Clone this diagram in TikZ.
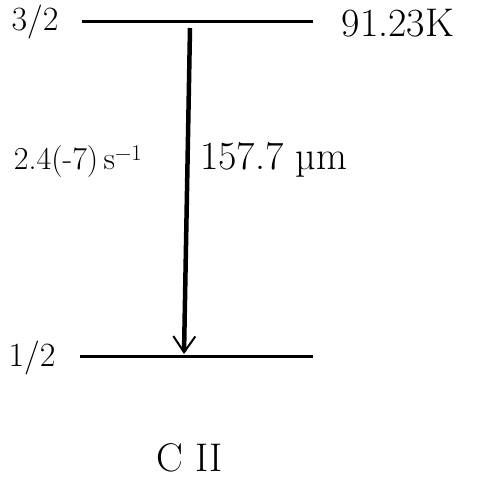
\documentclass[tikz,border=0pt]{standalone}
\usepackage{fontspec}
\usetikzlibrary{arrows.meta}
\begin{document}
\begin{tikzpicture}[x=1pt,y=-1pt,
  level/.style={line width=3pt},
  trans/.style={line width=4.5pt,-{Straight Barb[length=16pt,width=22pt,line width=2pt]}},
  lab/.style={inner sep=0pt,font=\fontsize{34}{36}\selectfont},
  biglab/.style={inner sep=0pt,font=\fontsize{40}{42}\selectfont},
  smalllab/.style={inner sep=0pt,font=\fontsize{32}{34}\selectfont}]
\useasboundingbox (0,0) rectangle (500,483);
\coordinate (u1) at (82,21);
\coordinate (u2) at (313,21);
\coordinate (l1) at (80,356);
\coordinate (l2) at (313,356);
\draw[level] (u1) -- (u2);
\draw[level] (l1) -- (l2);
\coordinate (atop) at (190,28);
\coordinate (abot) at (184,354);
\draw[trans] (atop) -- (abot);
\node[lab] (j32) at (35,22) {3/2};
\node[lab] (j12) at (32,358) {1/2};
\node[biglab] (temp) at (398,23) {91.23K};
\node[smalllab] (rate) at (78,162) {2.4(-7)\,s\textsuperscript{−1}};
\node[biglab,anchor=west] (wave) at (200,160) {157.7 µm};
\node[biglab] (ion) at (190,458) {C II};
\end{tikzpicture}
\end{document}
